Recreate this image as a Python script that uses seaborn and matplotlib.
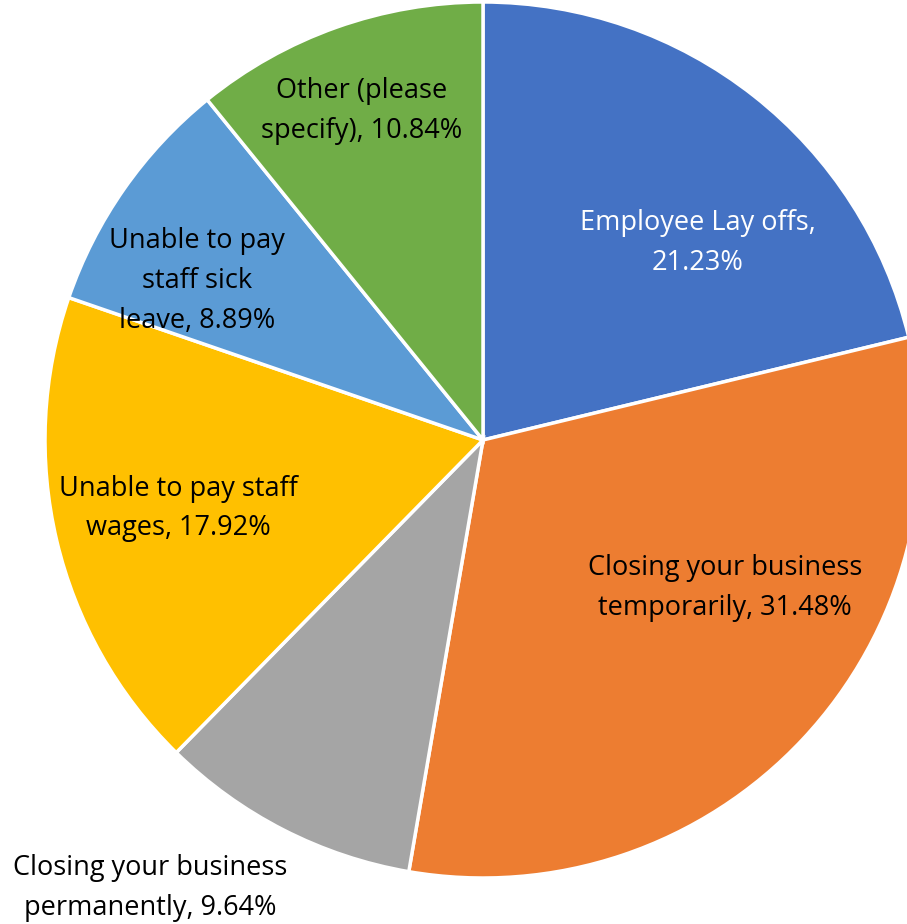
import numpy as np
import matplotlib.pyplot as plt
import seaborn as sns

# Chart data
categories = ['Employee Lay offs', 'Closing your business temporarily',
              'Closing your business permanently', 'Unable to pay staff wages',
              'Unable to pay staff sick leave', 'Other (please specify)']
shares = [21.23, 31.48, 9.64, 17.92, 8.89, 10.84]
label_text = ['Employee Lay offs,\n21.23%',
              'Closing your business\ntemporarily, 31.48%',
              'Closing your business\npermanently, 9.64%',
              'Unable to pay staff\nwages, 17.92%',
              'Unable to pay\nstaff sick\nleave, 8.89%',
              'Other (please\nspecify), 10.84%']

colors = ['#4472C4', '#ED7D31', '#A5A5A5', '#FFC000', '#5B9BD5', '#70AD47']
text_colors = ['white', 'black', 'black', 'black', 'black', 'black']
# label anchor points, in units of the pie radius
label_xy = [(0.491, 0.450), (0.553, -0.338), (-0.760, -1.023),
            (-0.696, -0.156), (-0.653, 0.363), (-0.276, 0.751)]

sns.set_style('white')
plt.rcParams['font.family'] = ['Open Sans', 'DejaVu Sans']

fig = plt.figure(figsize=(9.07, 9.24), dpi=100)
ax = fig.add_axes([0, 0, 1, 1])

wedges, _ = ax.pie(shares, colors=colors, startangle=90, counterclock=False,
                   radius=1.0, wedgeprops=dict(edgecolor='white', linewidth=2.5))

for txt, tc, (x, y) in zip(label_text, text_colors, label_xy):
    ax.text(x, y, txt, ha='center', va='center',
            fontsize=19.5, color=tc, linespacing=1.55)

ax.set_xlim(-483 / 438, (907 - 483) / 438)
ax.set_ylim(-(924 - 440) / 438, 440 / 438)
ax.set_aspect('auto')
ax.axis('off')

fig.savefig('out.png', dpi=100)
